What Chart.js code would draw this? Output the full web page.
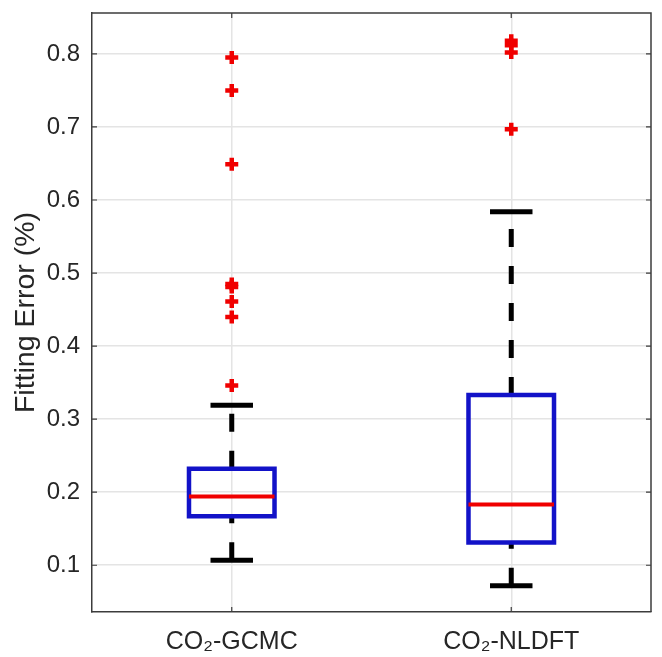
<!DOCTYPE html>
<html>
<head>
<meta charset="utf-8">
<script src="https://cdn.jsdelivr.net/npm/chart.js@4/dist/chart.umd.min.js"></script>
<style>
  html, body { margin: 0; padding: 0; background: #ffffff; }
  #wrap { width: 662px; height: 657px; }
</style>
</head>
<body>
<div id="wrap"><canvas id="c" width="662" height="657"></canvas></div>
<script>
// Box-plot summary of fitting errors for the two CO2 models
const categories = ['CO₂-GCMC', 'CO₂-NLDFT'];
const lowerWhisker = [0.107, 0.072];
const q1 = [0.167, 0.131];
const median = [0.194, 0.183];
const q3 = [0.232, 0.333];
const upperWhisker = [0.319, 0.584];
const outliersGCMC = [0.795, 0.750, 0.649, 0.485, 0.481, 0.461, 0.440, 0.346];
const outliersNLDFT = [0.818, 0.812, 0.802, 0.697];
const outliers = [outliersGCMC, outliersNLDFT];
const yTicks = [0.1, 0.2, 0.3, 0.4, 0.5, 0.6, 0.7, 0.8];

// Drawing constants (in x-axis units / pixels)
const BOX_HALF = 0.153;
const CAP_HALF = 0.076;
const TEXT = '#262626';
const GRID = '#e4e4e4';
const AXIS = '#3c3c3c';
const BLUE = '#1212c8';
const RED = '#f00000';
const FONT = 'Liberation Sans, Arial, sans-serif';

const datasets = [];
categories.forEach((name, i) => {
  const x = i + 1;
  // whiskers (dashed), drawn from the lower value upwards
  datasets.push({
    data: [{ x, y: q3[i] }, { x, y: upperWhisker[i] }],
    borderColor: '#000', borderWidth: 5, borderDash: [18, 19], order: 4
  });
  datasets.push({
    data: [{ x, y: lowerWhisker[i] }, { x, y: q1[i] }],
    borderColor: '#000', borderWidth: 5, borderDash: [18, 19], order: 4
  });
  // whisker caps
  datasets.push({
    data: [{ x: x - CAP_HALF, y: upperWhisker[i] }, { x: x + CAP_HALF, y: upperWhisker[i] }],
    borderColor: '#000', borderWidth: 5, order: 3
  });
  datasets.push({
    data: [{ x: x - CAP_HALF, y: lowerWhisker[i] }, { x: x + CAP_HALF, y: lowerWhisker[i] }],
    borderColor: '#000', borderWidth: 5, order: 3
  });
  // box
  datasets.push({
    data: [
      { x: x - BOX_HALF, y: q1[i] }, { x: x + BOX_HALF, y: q1[i] },
      { x: x + BOX_HALF, y: q3[i] }, { x: x - BOX_HALF, y: q3[i] },
      { x: x - BOX_HALF, y: q1[i] }
    ],
    borderColor: BLUE, borderWidth: 4.5, borderCapStyle: 'square', order: 2
  });
  // median
  datasets.push({
    data: [{ x: x - BOX_HALF, y: median[i] }, { x: x + BOX_HALF, y: median[i] }],
    borderColor: RED, borderWidth: 4, order: 1
  });
  // outliers
  datasets.push({
    data: outliers[i].map(v => ({ x, y: v })),
    showLine: false,
    pointStyle: 'cross',
    pointRadius: 6.5,
    pointBorderWidth: 4.5,
    pointBorderColor: RED,
    pointBackgroundColor: RED,
    order: 0
  });
});
datasets.forEach(d => {
  if (d.showLine === undefined) {
    d.showLine = true;
    d.pointRadius = 0;
    d.fill = false;
    d.tension = 0;
  }
});

// Top/right frame and inward tick marks, as in the original axes box
const frame = {
  id: 'frame',
  afterDraw(chart) {
    const { ctx, chartArea: a, scales } = chart;
    ctx.save();
    ctx.strokeStyle = AXIS;
    ctx.lineWidth = 1.5;
    ctx.beginPath();
    ctx.moveTo(a.left, a.top); ctx.lineTo(a.right, a.top); ctx.lineTo(a.right, a.bottom);
    ctx.stroke();
    ctx.lineWidth = 1.2;
    ctx.beginPath();
    scales.y.ticks.forEach(t => {
      const py = scales.y.getPixelForValue(t.value);
      ctx.moveTo(a.left, py); ctx.lineTo(a.left + 5, py);
      ctx.moveTo(a.right, py); ctx.lineTo(a.right - 5, py);
    });
    scales.x.ticks.forEach(t => {
      const px = scales.x.getPixelForValue(t.value);
      ctx.moveTo(px, a.bottom); ctx.lineTo(px, a.bottom - 5);
      ctx.moveTo(px, a.top); ctx.lineTo(px, a.top + 5);
    });
    ctx.stroke();
    ctx.restore();
  }
};

new Chart(document.getElementById('c'), {
  type: 'scatter',
  data: { datasets },
  plugins: [frame],
  options: {
    responsive: false,
    animation: false,
    devicePixelRatio: 1,
    layout: { padding: { top: 13, right: 2, left: 0, bottom: 0 } },
    plugins: { legend: { display: false }, tooltip: { enabled: false } },
    scales: {
      x: {
        type: 'linear',
        min: 0.5,
        max: 2.5,
        afterBuildTicks: s => { s.ticks = categories.map((_, i) => ({ value: i + 1 })); },
        afterFit: s => { s.height = 45; s.paddingLeft = 0; s.paddingRight = 0; },
        ticks: {
          callback: v => categories[Math.round(v) - 1],
          font: { family: FONT, size: 25 },
          color: TEXT,
          padding: 15,
          maxRotation: 0
        },
        grid: { color: GRID, lineWidth: 1.5, drawTicks: false },
        border: { color: AXIS, width: 1.5 }
      },
      y: {
        type: 'linear',
        min: 0.036,
        max: 0.856,
        afterBuildTicks: s => { s.ticks = yTicks.map(v => ({ value: v })); },
        afterFit: s => { s.width = 92; s.paddingTop = 0; s.paddingBottom = 0; },
        ticks: {
          callback: v => (+v).toFixed(1),
          font: { family: FONT, size: 24 },
          color: TEXT,
          padding: 12
        },
        title: {
          display: true,
          text: 'Fitting Error (%)',
          font: { family: FONT, size: 28.5 },
          color: TEXT,
          padding: { top: 9, bottom: 0 }
        },
        grid: { color: GRID, lineWidth: 1.5, drawTicks: false },
        border: { color: AXIS, width: 1.5 }
      }
    }
  }
});
</script>
</body>
</html>
